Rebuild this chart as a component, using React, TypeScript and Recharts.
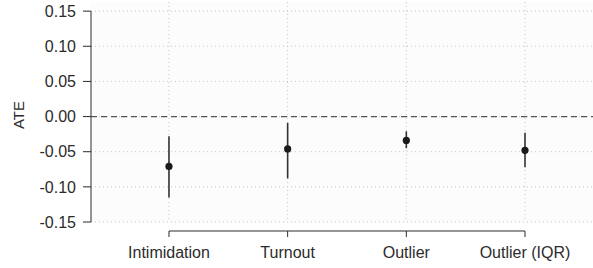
import {
  ScatterChart,
  Scatter,
  XAxis,
  YAxis,
  CartesianGrid,
  ReferenceLine,
  ErrorBar,
} from "recharts";

// ATE estimates with 95% intervals
const categories = ["Intimidation", "Turnout", "Outlier", "Outlier (IQR)"];
const estimates = [-0.071, -0.046, -0.034, -0.048];
const lowerBounds = [-0.115, -0.088, -0.045, -0.072];
const upperBounds = [-0.028, -0.009, -0.021, -0.023];
const yTicks = [-0.15, -0.1, -0.05, 0, 0.05, 0.1, 0.15];
const xTicks = [1, 2, 3, 4];

const X_DOMAIN: [number, number] = [0.343, 4.573];
const Y_DOMAIN: [number, number] = [-0.15, 0.163];
const X_AXIS_Y = -0.1628; // axis line sits a little below the plot, R style

const FONT = "'Liberation Sans', Arial, Helvetica, sans-serif";
const INK = "#2b2b2b";

const data = categories.map((name, i) => ({
  pos: i + 1,
  name,
  ate: estimates[i],
  err: [estimates[i] - lowerBounds[i], upperBounds[i] - estimates[i]],
}));

const XTick = (props: any) => {
  const { x, y, payload } = props;
  return (
    <g>
      <line x1={x} x2={x} y1={y + 9} y2={y + 15} stroke={INK} strokeWidth={1} />
      <text
        x={x}
        y={y + 36}
        textAnchor="middle"
        fontFamily={FONT}
        fontSize={16}
        fill={INK}
      >
        {categories[payload.value - 1]}
      </text>
    </g>
  );
};

const Dot = (props: any) => {
  const { cx, cy } = props;
  if (cx == null || cy == null) return null;
  return <circle cx={cx} cy={cy} r={3.6} fill="#1a1a1a" />;
};

export default function App() {
  return (
    <div
      style={{
        position: "absolute",
        top: 0,
        left: 0,
        width: 593,
        height: 268,
        background: "#fff",
      }}
    >
      <ScatterChart
        width={593}
        height={268}
        margin={{ top: 2, right: 0, bottom: 0, left: 0 }}
        style={{ overflow: "visible" }}
      >
        <CartesianGrid
          stroke="#c4c4c4"
          strokeDasharray="1 3"
          fill="#fcfcfc"
          horizontalValues={yTicks}
          verticalValues={xTicks}
        />
        <XAxis
          type="number"
          dataKey="pos"
          domain={X_DOMAIN}
          ticks={xTicks}
          allowDataOverflow
          axisLine={false}
          tickLine={false}
          tickSize={0}
          tickMargin={0}
          height={46}
          tick={<XTick />}
          interval={0}
        />
        <YAxis
          type="number"
          dataKey="ate"
          domain={Y_DOMAIN}
          ticks={yTicks}
          allowDataOverflow
          width={91}
          axisLine={false}
          tickLine={{ stroke: INK }}
          tickSize={8}
          tickMargin={7}
          interval={0}
          tickFormatter={(v: number) => v.toFixed(2)}
          tick={{ fontFamily: FONT, fontSize: 16, fill: INK }}
          label={({ viewBox }: any) => (
            <text
              x={viewBox.x + 18}
              y={viewBox.y + viewBox.height / 2 + 3}
              transform={`rotate(-90, ${viewBox.x + 18}, ${viewBox.y + viewBox.height / 2 + 3})`}
              textAnchor="middle"
              dominantBaseline="central"
              fontFamily={FONT}
              fontSize={15}
              fill={INK}
            >
              ATE
            </text>
          )}
        />
        <ReferenceLine
          segment={[
            { x: X_DOMAIN[0], y: -0.15 },
            { x: X_DOMAIN[0], y: 0.15 },
          ]}
          stroke={INK}
          strokeWidth={1}
          ifOverflow="visible"
        />
        <ReferenceLine
          segment={[
            { x: 1, y: X_AXIS_Y },
            { x: 4, y: X_AXIS_Y },
          ]}
          stroke={INK}
          strokeWidth={1}
          ifOverflow="visible"
        />
        <ReferenceLine y={0} stroke="#555" strokeWidth={1.2} strokeDasharray="6 4" />
        <Scatter data={data} shape={<Dot />} isAnimationActive={false}>
          <ErrorBar
            dataKey="err"
            direction="y"
            width={0}
            stroke="#333"
            strokeWidth={1.6}
            isAnimationActive={false}
          />
        </Scatter>
      </ScatterChart>
    </div>
  );
}
